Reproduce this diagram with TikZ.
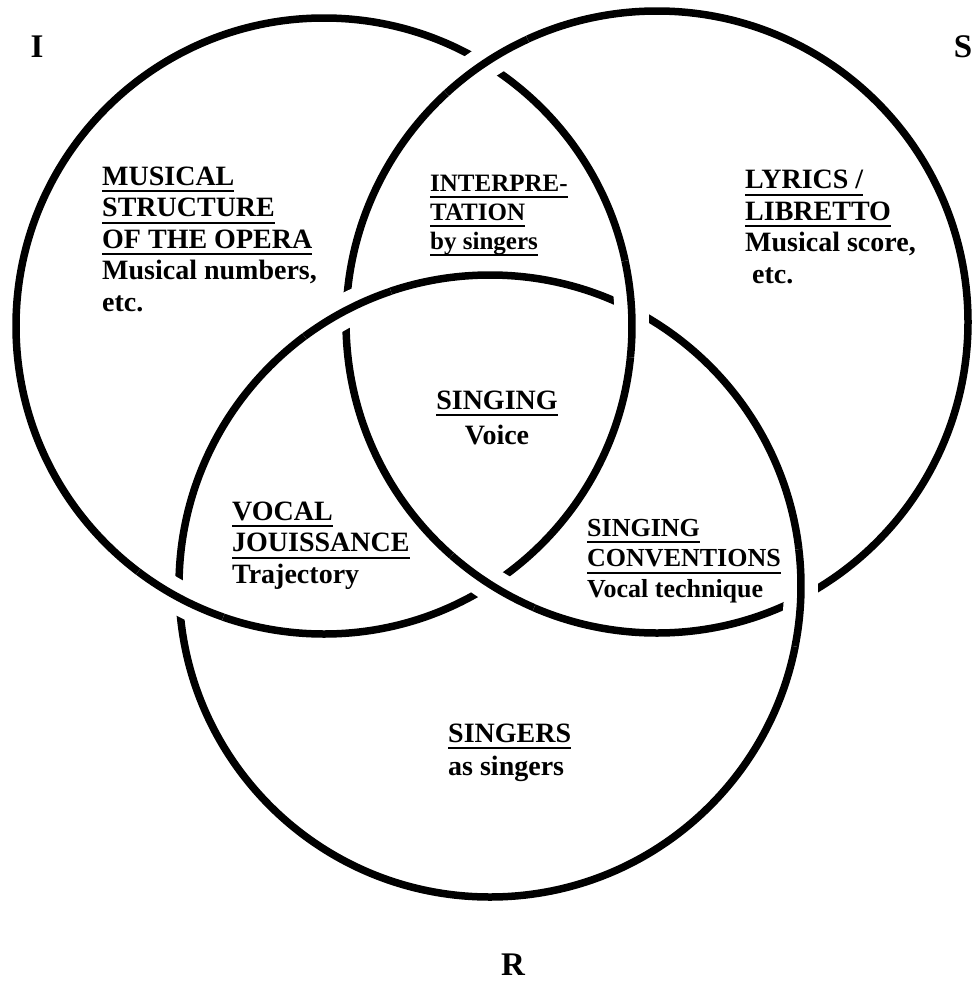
\documentclass[tikz,border=0pt]{standalone}
\usepackage{fontspec}
\setmainfont{Liberation Serif}
% underline one line of text with a heavier rule
\newcommand\ulline[1]{\setbox0\hbox{#1}\rlap{\rule[-7pt]{\wd0}{2.2pt}}\box0}
\begin{document}
\begin{tikzpicture}[x=1pt,y=-1pt,
  ring/.style={line width=7.5pt,black},
  cut/.style={line width=34pt,white},
  lbl/.style={inner sep=0pt,align=left,anchor=north west,
    font=\bfseries\fontsize{28}{31.5}\selectfont},
  corner/.style={inner sep=0pt,font=\bfseries\fontsize{33}{36}\selectfont}]
\useasboundingbox (0,0) rectangle (974,996);

% ring centres
\coordinate (cI) at (324,326);
\coordinate (cS) at (657,322);
\coordinate (cR) at (490,586);

% the three rings
\draw[ring] (cI) circle[radius=308];
\draw[ring] (cS) circle[radius=311];
\draw[ring] (cR) circle[radius=311];

% over-crossings: S over I, I over R, R over S
\foreach \cx/\cy/\r/\a in {657/322/311/-123.6, 657/322/311/122.3,
                           324/326/308/118.1, 324/326/308/-3.2,
                           490/586/311/2.2,   490/586/311/-117.6}{
  \draw[cut]  (\cx,\cy) ++({\a-9}:\r) arc[start angle={\a-9},end angle={\a+9},radius=\r];
  \draw[ring] (\cx,\cy) ++({\a-9}:\r) arc[start angle={\a-9},end angle={\a+9},radius=\r];
}

% ring letters
\node[corner] (lI) at (37,47) {I};
\node[corner] (lS) at (963,47) {S};
\node[corner] (lR) at (513,965) {R};

% region labels
\node[lbl] (opera) at (102,166.5)
  {\ulline{MUSICAL}\\\ulline{STRUCTURE}\\\ulline{OF THE OPERA}\\Musical numbers,\\etc.};
\node[lbl,font=\bfseries\fontsize{25}{29}\selectfont] (interp) at (430,174.5)
  {\ulline{INTERPRE-}\\\ulline{TATION}\\\ulline{by singers}};
\node[lbl] (lyrics) at (745,170)
  {\ulline{LYRICS /}\\\ulline{LIBRETTO}\\Musical score,\\\ etc.};
\node[lbl,align=center,anchor=north,font=\bfseries\fontsize{28}{35}\selectfont] (voice) at (497,390.5)
  {\ulline{SINGING}\\Voice};
\node[lbl] (jouis) at (232,501.5)
  {\ulline{VOCAL}\\\ulline{JOUISSANCE}\\Trajectory};
\node[lbl,font=\bfseries\fontsize{26}{30.5}\selectfont] (conv) at (587,518.8)
  {\ulline{SINGING}\\\ulline{CONVENTIONS}\\Vocal technique};
\node[lbl,font=\bfseries\fontsize{28}{33}\selectfont] (singers) at (448,723.5)
  {\ulline{SINGERS}\\as singers};
\end{tikzpicture}
\end{document}
